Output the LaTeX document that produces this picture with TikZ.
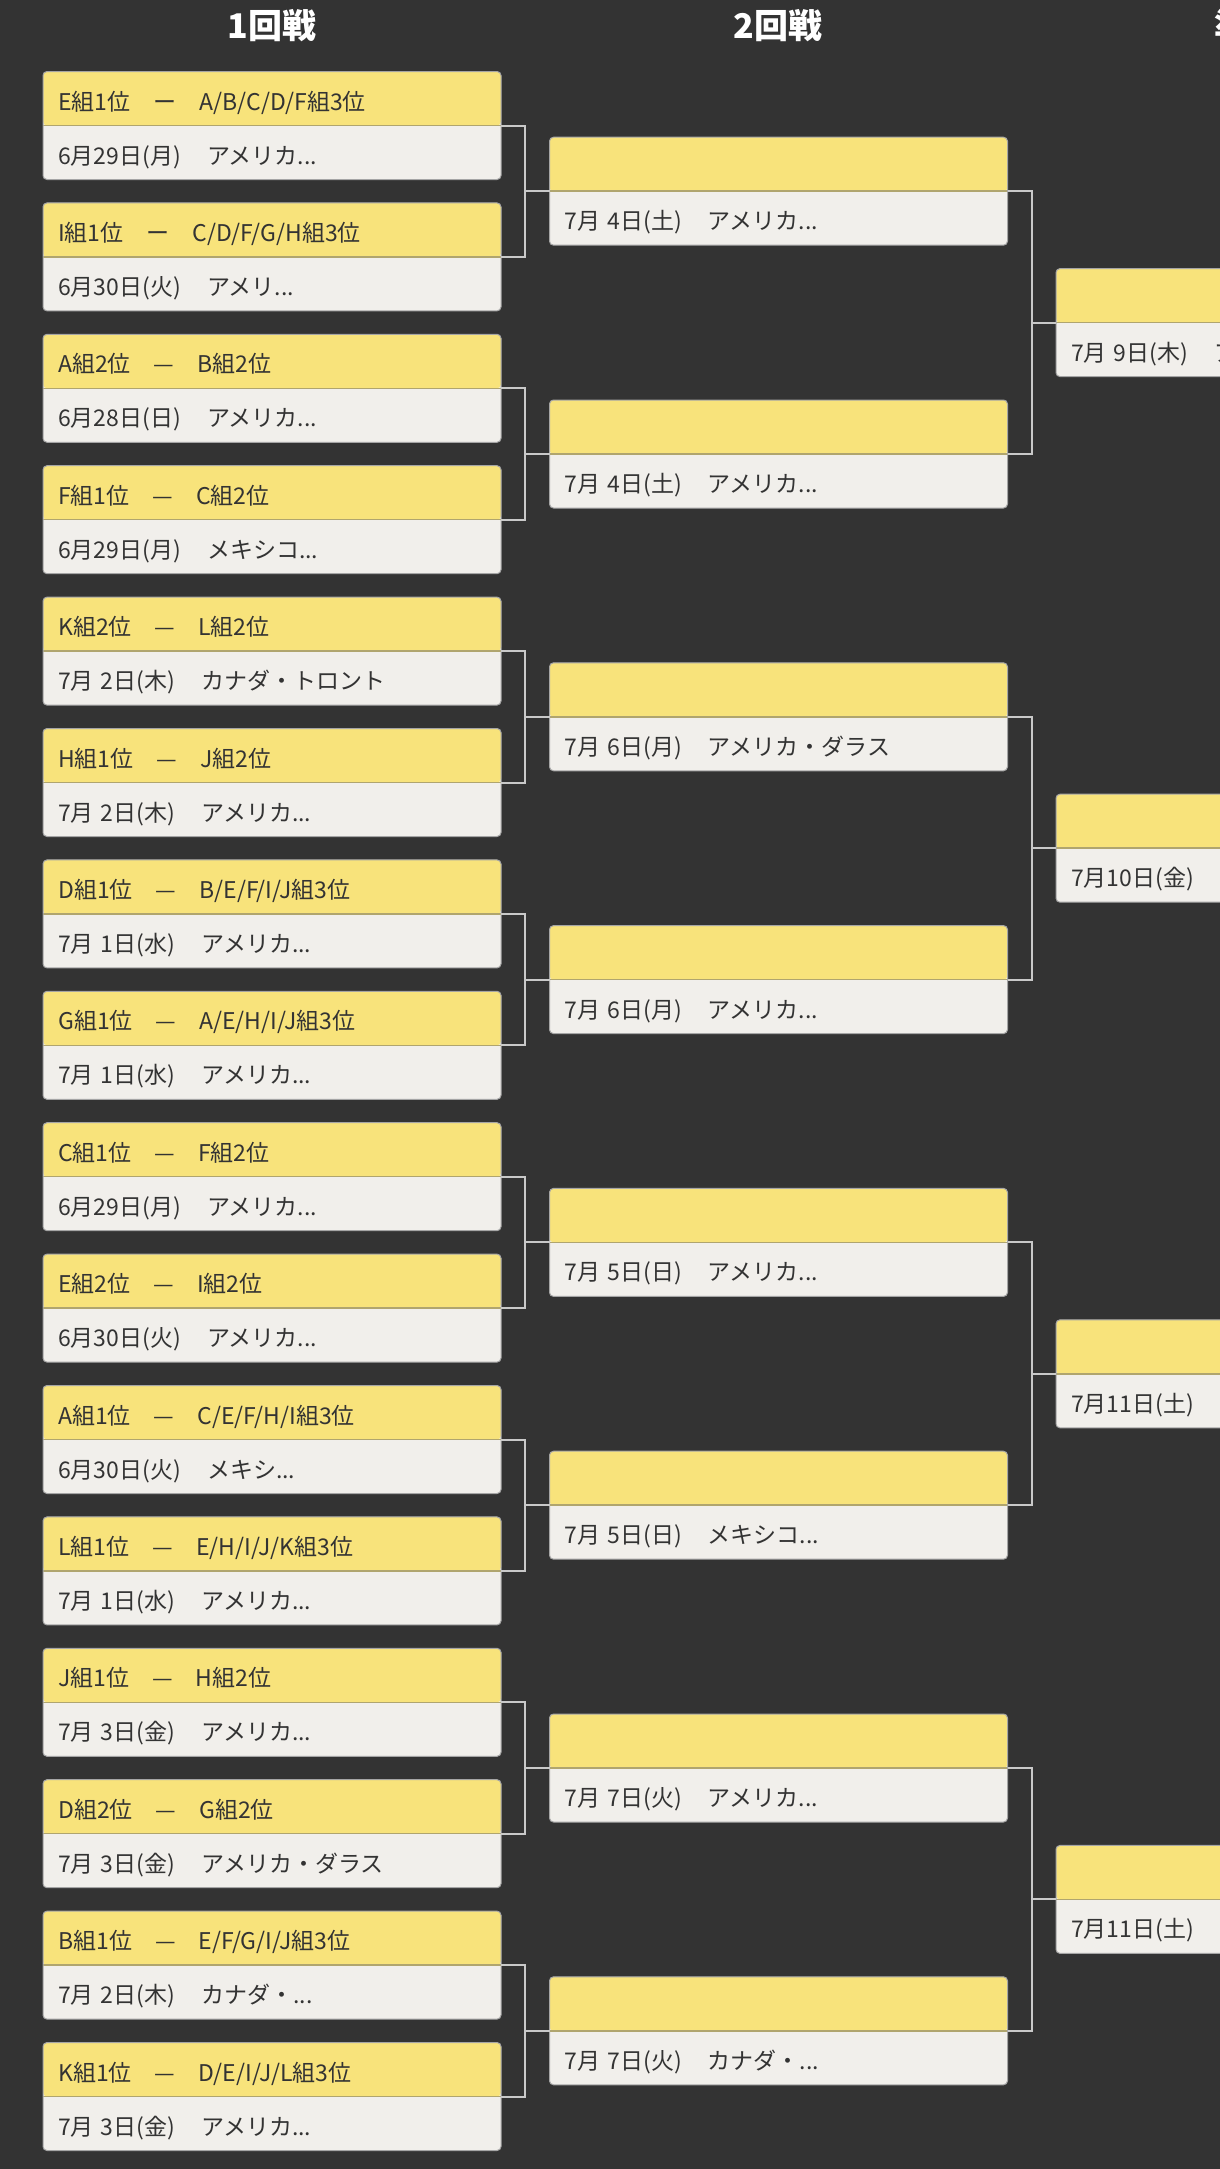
\documentclass[tikz,border=0pt]{standalone}
\usepackage{fontspec}
\setmainfont{Noto Sans CJK JP}
\usetikzlibrary{calc}
\definecolor{bgc}{HTML}{333333}
\definecolor{yelc}{HTML}{F8E37B}
\definecolor{whc}{HTML}{F1EFEB}
\definecolor{bordc}{HTML}{A5A5A5}
\definecolor{sepc}{HTML}{B0A56E}
\definecolor{connc}{HTML}{C9C9C9}
\definecolor{txtc}{HTML}{333333}
\tikzset{
  matchframe/.style={anchor=north west, minimum width=458pt, minimum height=108pt,
    inner sep=0pt, outer sep=0pt, rounded corners=4pt, fill=whc, draw=bordc, line width=1pt,
    path picture={\fill[yelc] (path picture bounding box.north west) rectangle (path picture bounding box.east);
      \draw[sepc, line width=1.5pt] (path picture bounding box.west) -- (path picture bounding box.east);}},
  boxtext/.style={anchor=base west, inner sep=0pt, text=txtc, font=\fontsize{23pt}{23pt}\selectfont},
  heading/.style={anchor=base, inner sep=0pt, text=white, font=\fontsize{34pt}{34pt}\selectfont\bfseries},
  conn/.style={draw=connc, line width=2pt}
}
\newcommand\gsp{\hspace{23pt}}
\newcommand\dsp{\hspace{26pt}}
\newcommand\fsp{\hspace{7pt}}
\newcommand\matchbox[5]{%
  \node[matchframe] (#1) at (#2,{#3}) {};
  \node[boxtext] (#1a) at ([xshift=15pt,yshift=15.5pt]#1.west) {#4};
  \node[boxtext] (#1b) at ([xshift=15pt,yshift=-38.5pt]#1.west) {#5};
}
\begin{document}
\begin{tikzpicture}[x=1pt,y=-1pt]
\useasboundingbox (0,0) rectangle (1220,2169);
\clip (0,0) rectangle (1220,2169);
\fill[bgc] (0,0) rectangle (1220,2169);

\node[heading] (h1) at (272,38) {1回戦};
\node[heading] (h2) at (778,38) {2回戦};
\node[heading] (h3) at (1282,38) {準々決勝};

% Round 1
\matchbox{ra}{43}{71.5+0*131.4}{E組1位\gsp ー\gsp A/B/C/D/F組3位}{6月29日(月)\dsp アメリカ...}
\matchbox{rb}{43}{71.5+1*131.4}{I組1位\gsp ー\gsp C/D/F/G/H組3位}{6月30日(火)\dsp アメリ...}
\matchbox{rc}{43}{71.5+2*131.4}{A組2位\gsp —\gsp B組2位}{6月28日(日)\dsp アメリカ...}
\matchbox{rd}{43}{71.5+3*131.4}{F組1位\gsp —\gsp C組2位}{6月29日(月)\dsp メキシコ...}
\matchbox{re}{43}{71.5+4*131.4}{K組2位\gsp —\gsp L組2位}{7月\fsp 2日(木)\dsp カナダ・トロント}
\matchbox{rf}{43}{71.5+5*131.4}{H組1位\gsp —\gsp J組2位}{7月\fsp 2日(木)\dsp アメリカ...}
\matchbox{rg}{43}{71.5+6*131.4}{D組1位\gsp —\gsp B/E/F/I/J組3位}{7月\fsp 1日(水)\dsp アメリカ...}
\matchbox{rh}{43}{71.5+7*131.4}{G組1位\gsp —\gsp A/E/H/I/J組3位}{7月\fsp 1日(水)\dsp アメリカ...}
\matchbox{ri}{43}{71.5+8*131.4}{C組1位\gsp —\gsp F組2位}{6月29日(月)\dsp アメリカ...}
\matchbox{rj}{43}{71.5+9*131.4}{E組2位\gsp —\gsp I組2位}{6月30日(火)\dsp アメリカ...}
\matchbox{rk}{43}{71.5+10*131.4}{A組1位\gsp —\gsp C/E/F/H/I組3位}{6月30日(火)\dsp メキシ...}
\matchbox{rl}{43}{71.5+11*131.4}{L組1位\gsp —\gsp E/H/I/J/K組3位}{7月\fsp 1日(水)\dsp アメリカ...}
\matchbox{rm}{43}{71.5+12*131.4}{J組1位\gsp —\gsp H組2位}{7月\fsp 3日(金)\dsp アメリカ...}
\matchbox{rn}{43}{71.5+13*131.4}{D組2位\gsp —\gsp G組2位}{7月\fsp 3日(金)\dsp アメリカ・ダラス}
\matchbox{ro}{43}{71.5+14*131.4}{B組1位\gsp —\gsp E/F/G/I/J組3位}{7月\fsp 2日(木)\dsp カナダ・...}
\matchbox{rp}{43}{71.5+15*131.4}{K組1位\gsp —\gsp D/E/I/J/L組3位}{7月\fsp 3日(金)\dsp アメリカ...}

% Round 2
\matchbox{sa}{549.5}{137.2+0*262.8}{}{7月\fsp 4日(土)\dsp アメリカ...}
\matchbox{sb}{549.5}{137.2+1*262.8}{}{7月\fsp 4日(土)\dsp アメリカ...}
\matchbox{sc}{549.5}{137.2+2*262.8}{}{7月\fsp 6日(月)\dsp アメリカ・ダラス}
\matchbox{sd}{549.5}{137.2+3*262.8}{}{7月\fsp 6日(月)\dsp アメリカ...}
\matchbox{se}{549.5}{137.2+4*262.8}{}{7月\fsp 5日(日)\dsp アメリカ...}
\matchbox{sf}{549.5}{137.2+5*262.8}{}{7月\fsp 5日(日)\dsp メキシコ...}
\matchbox{sg}{549.5}{137.2+6*262.8}{}{7月\fsp 7日(火)\dsp アメリカ...}
\matchbox{sh}{549.5}{137.2+7*262.8}{}{7月\fsp 7日(火)\dsp カナダ・...}

% Round 3
\matchbox{ta}{1056}{268.6+0*525.6}{}{7月\fsp 9日(木)\dsp アメリカ...}
\matchbox{tb}{1056}{268.6+1*525.6}{}{7月10日(金)\dsp アメリカ...}
\matchbox{tc}{1056}{268.6+2*525.6}{}{7月11日(土)\dsp アメリカ...}
\matchbox{td}{1056}{268.6+3*525.6}{}{7月11日(土)\dsp アメリカ...}

% connectors R1 -> R2
\foreach \a/\b/\p in {ra/rb/sa, rc/rd/sb, re/rf/sc, rg/rh/sd, ri/rj/se, rk/rl/sf, rm/rn/sg, ro/rp/sh}{
  \draw[conn] (\a.east) -- ++(24,0) |- (\p.west);
  \draw[conn] (\b.east) -- ++(24,0) |- (\p.west);
}
% connectors R2 -> R3
\foreach \a/\b/\p in {sa/sb/ta, sc/sd/tb, se/sf/tc, sg/sh/td}{
  \draw[conn] (\a.east) -- ++(24.5,0) |- (\p.west);
  \draw[conn] (\b.east) -- ++(24.5,0) |- (\p.west);
}
\end{tikzpicture}
\end{document}
